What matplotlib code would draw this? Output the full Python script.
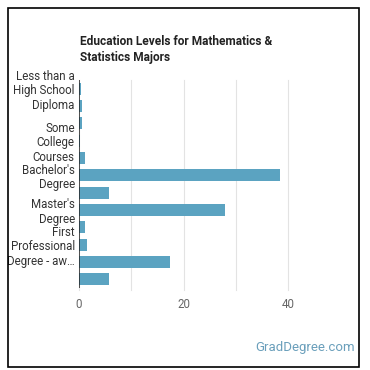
import matplotlib
matplotlib.use("Agg")
import matplotlib.pyplot as plt
from matplotlib.patches import Rectangle

plt.rcParams['font.family'] = ['Roboto', 'DejaVu Sans']

categories = [
    "Less than a High School Diploma",
    "High School Diploma",
    "Post-Secondary Certificate",
    "Some College Courses",
    "Associate's Degree",
    "Bachelor's Degree",
    "Post-Baccalaureate Certificate",
    "Master's Degree",
    "Post-Master's Certificate",
    "First Professional Degree - awarded for completion of a program",
    "Doctoral Degree",
    "Post-Doctoral Training",
]
values = [0.3, 0.6, 0.6, 0.2, 1.1, 38.4, 5.7, 27.9, 1.2, 1.6, 17.4, 5.8]
# labels the chart actually shows (others auto-skipped)
shown_labels = {
    0: "Less than a\nHigh School\nDiploma",
    3: "Some\nCollege\nCourses",
    5: "Bachelor's\nDegree",
    7: "Master's\nDegree",
    9: "First\nProfessional\nDegree - aw…",
}
x_ticks = [0, 20, 40]
x_grid = [0, 10, 20, 30, 40]
title = "Education Levels for Mathematics &\nStatistics Majors"

W = H = 370
fig = plt.figure(figsize=(W / 100, H / 100), dpi=100)

# outer frame
fig.patches.append(Rectangle((8 / W, (H - 367) / H), 351 / W, 359 / H,
                             transform=fig.transFigure, fill=False,
                             edgecolor='black', linewidth=1.2))

left, right = 79 / W, 288 / W
top, bottom = 80 / H, 288 / H
ax = fig.add_axes([left, 1 - bottom, right - left, bottom - top])

n = len(categories)
ypos = list(range(n))
ax.barh(ypos, values, height=0.68, color='#5ba3c1', zorder=3)
ax.set_ylim(n - 0.5, -0.5)
ax.set_xlim(0, 40)

ax.set_yticks(ypos)
ax.set_yticklabels([shown_labels.get(i, "") for i in range(n)],
                   fontsize=8.3, color='#333333', linespacing=1.14)
ax.set_xticks(x_ticks)
ax.set_xticklabels([str(t) for t in x_ticks], fontsize=8.3, color='#666666')
ax.tick_params(axis='both', length=0)
ax.tick_params(axis='y', pad=3)
ax.tick_params(axis='x', pad=7)

for g in x_grid:
    ax.axvline(g, color='#e3e3e3', linewidth=0.8, zorder=1,
               ymin=-0.01, clip_on=False)
ax.axvline(0, color='#222222', linewidth=1.1, zorder=4)

for s in ax.spines.values():
    s.set_visible(False)

fig.text(80 / W, 1 - 35 / H, title, fontsize=8.6, fontweight='bold',
         color='#222222', va='top', ha='left', linespacing=1.25)

fig.text(355 / W, 1 - 347 / H, "GradDegree.com", fontsize=9.5,
         color='#6a9fbb', ha='right', va='center')

fig.savefig("out.png", dpi=100)
